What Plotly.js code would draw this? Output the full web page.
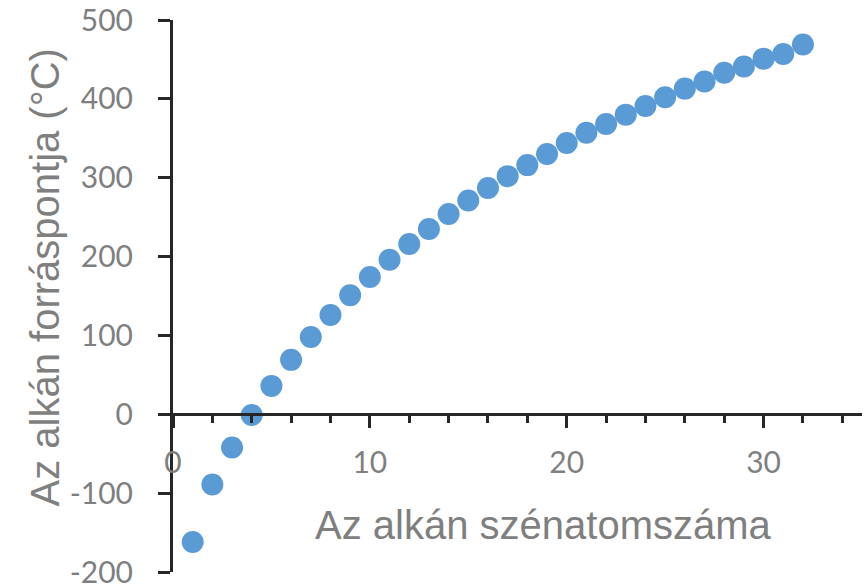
<!DOCTYPE html>
<html>
<head>
<meta charset="utf-8">
<script src="https://cdn.plot.ly/plotly-3.0.1.min.js"></script>
<style>
  html, body { margin: 0; padding: 0; background: #fff; }
  #chart { width: 867px; height: 586px; }
</style>
</head>
<body>
<div id="chart"></div>
<script>
// Carbon number of the alkane
const carbonAtoms = [1,2,3,4,5,6,7,8,9,10,11,12,13,14,15,16,17,18,19,20,21,22,23,24,25,26,27,28,29,30,31,32];
// Boiling point (°C)
const boilingPoints = [-162,-89,-42,-1,36,69,98,126,151,174,196,216,235,254,271,287,302,316,330,344,357,368,380,391,402,413,422,433,441,451,457,469];

// Axis tick labels
const xTickVals = [0, 10, 20, 30];
const xTickText = ['0', '10', '20', '30'];
const yTickVals = [-200, -100, 0, 100, 200, 300, 400, 500];
const yTickText = ['-200', '-100', '0', '100', '200', '300', '400', '500'];

const xTitle = 'Az alkán szénatomszáma';
const yTitle = 'Az alkán forráspontja (°C)';

const axisColor = '#262626';
const textColor = '#7f7f7f';
const tickFont = {family: 'Lato, sans-serif', size: 30, color: textColor};
const titleFont = {family: 'Liberation Sans, Arial, sans-serif', size: 40, color: textColor};

const trace = {
  x: carbonAtoms,
  y: boilingPoints,
  type: 'scatter',
  mode: 'markers',
  marker: {color: '#5B9BD5', size: 22},
  cliponaxis: false,
  hoverinfo: 'x+y'
};

const layout = {
  width: 867,
  height: 586,
  margin: {l: 173, r: 5, t: 20, b: 14},
  paper_bgcolor: '#ffffff',
  plot_bgcolor: '#ffffff',
  showlegend: false,
  xaxis: {
    range: [0, 35],
    anchor: 'free',
    position: 200 / 700,
    showline: true,
    linecolor: axisColor,
    linewidth: 3,
    showgrid: false,
    zeroline: false,
    ticks: 'outside',
    ticklen: 12,
    tickwidth: 3,
    tickcolor: axisColor,
    tickmode: 'array',
    tickvals: xTickVals,
    ticktext: xTickText,
    tickfont: tickFont,
    ticklabelstandoff: 9,
    ticklabeloverflow: 'allow',
    minor: {ticks: 'outside', dtick: 2, tick0: 0, ticklen: 7, tickwidth: 3, tickcolor: axisColor, showgrid: false}
  },
  yaxis: {
    range: [-200, 500],
    showline: true,
    linecolor: axisColor,
    linewidth: 3,
    showgrid: false,
    zeroline: false,
    ticks: 'outside',
    ticklen: 12,
    tickwidth: 3,
    tickcolor: axisColor,
    tickmode: 'array',
    tickvals: yTickVals,
    ticktext: yTickText,
    tickfont: tickFont,
    ticklabelstandoff: 19,
    ticklabeloverflow: 'allow'
  },
  annotations: [
    {
      text: xTitle,
      xref: 'paper', yref: 'paper',
      x: (543 - 173) / 689, y: (572 - 525) / 552,
      xanchor: 'center', yanchor: 'middle',
      showarrow: false,
      font: titleFont
    },
    {
      text: yTitle,
      xref: 'paper', yref: 'paper',
      x: (44 - 173) / 689, y: (572 - 277.5) / 552,
      xanchor: 'center', yanchor: 'middle',
      textangle: -90,
      showarrow: false,
      font: titleFont
    }
  ]
};

Plotly.newPlot('chart', [trace], layout, {displayModeBar: false, staticPlot: true});
</script>
</body>
</html>
